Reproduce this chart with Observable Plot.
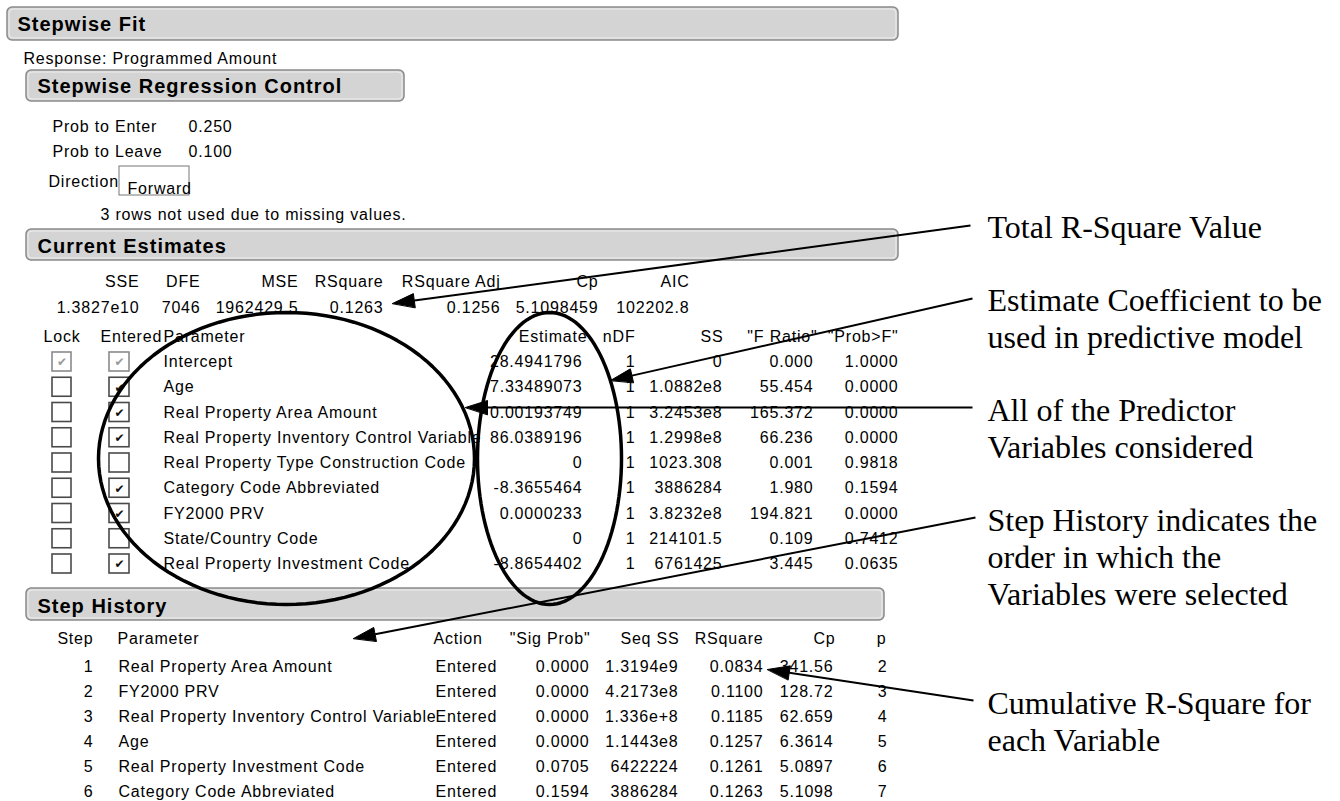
<!DOCTYPE html>
<html>
<head>
<meta charset="utf-8">
<script src="https://cdn.jsdelivr.net/npm/d3@7"></script>
<script src="https://cdn.jsdelivr.net/npm/@observablehq/plot@0.6"></script>
<style>
html, body { margin: 0; padding: 0; background: #fff; overflow: hidden; }
#chart svg text { letter-spacing: 0.8px; }
#chart svg g[font-weight="bold"] text { letter-spacing: 1px; }
#chart svg g[font-family^="Liberation Serif"] text { letter-spacing: 0; }
#chart svg g[font-family^="DejaVu"] text { letter-spacing: 0; }
</style>
</head>
<body>
<div id="chart"></div>
<script>
// ---------------- DATA ----------------
const panelTitles = ["Stepwise Fit", "Stepwise Regression Control", "Current Estimates", "Step History"];
const responseLabel = "Response: Programmed Amount";
const controlLabels = ["Prob to Enter", "Prob to Leave"];
const controlValues = ["0.250", "0.100"];
const directionLabel = "Direction";
const directionValue = "Forward";
const missingNote = "3 rows not used due to missing values.";

const summaryHeaders = ["SSE", "DFE", "MSE", "RSquare", "RSquare Adj", "Cp", "AIC"];
const summaryValues = ["1.3827e10", "7046", "1962429.5", "0.1263", "0.1256", "5.1098459", "102202.8"];

const paramHeadersLeft = ["Lock", "Entered", "Parameter"];
const paramHeadersRight = ["Estimate", "nDF", "SS", "\"F Ratio\"", "\"Prob>F\""];
const params = ["Intercept", "Age", "Real Property Area Amount", "Real Property Inventory Control Variable",
  "Real Property Type Construction Code", "Category Code Abbreviated", "FY2000 PRV", "State/Country Code",
  "Real Property Investment Code"];
const lockedFlags = [true, false, false, false, false, false, false, false, false];
const enteredFlags = [true, true, true, true, false, true, true, false, true];
const estimates = ["28.4941796", "7.33489073", "0.00193749", "86.0389196", "0", "-8.3655464", "0.0000233", "0", "-8.8654402"];
const nDF = ["1", "1", "1", "1", "1", "1", "1", "1", "1"];
const ssValues = ["0", "1.0882e8", "3.2453e8", "1.2998e8", "1023.308", "3886284", "3.8232e8", "214101.5", "6761425"];
const fRatios = ["0.000", "55.454", "165.372", "66.236", "0.001", "1.980", "194.821", "0.109", "3.445"];
const probF = ["1.0000", "0.0000", "0.0000", "0.0000", "0.9818", "0.1594", "0.0000", "0.7412", "0.0635"];

const stepHeadersLeft = ["Parameter", "Action"];
const stepHeadersRight = ["Step", "\"Sig Prob\"", "Seq SS", "RSquare", "Cp", "p"];
const stepNumbers = ["1", "2", "3", "4", "5", "6"];
const stepParams = ["Real Property Area Amount", "FY2000 PRV", "Real Property Inventory Control Variable", "Age",
  "Real Property Investment Code", "Category Code Abbreviated"];
const stepActions = ["Entered", "Entered", "Entered", "Entered", "Entered", "Entered"];
const sigProb = ["0.0000", "0.0000", "0.0000", "0.0000", "0.0705", "0.1594"];
const seqSS = ["1.3194e9", "4.2173e8", "1.336e+8", "1.1443e8", "6422224", "3886284"];
const stepRSquare = ["0.0834", "0.1100", "0.1185", "0.1257", "0.1261", "0.1263"];
const stepCp = ["341.56", "128.72", "62.659", "6.3614", "5.0897", "5.1098"];
const stepP = ["2", "3", "4", "5", "6", "7"];

const annotationTexts = [
  ["Total R-Square Value"],
  ["Estimate Coefficient to be", "used in predictive model"],
  ["All of the Predictor", "Variables considered"],
  ["Step History indicates the", "order in which the", "Variables were selected"],
  ["Cumulative R-Square for", "each Variable"]
];

// ---------------- LAYOUT (pixel geometry of the report) ----------------
const W = 1340, H = 801;
const FS = 16, FB = 20, FA = 32;
const L = {
  panels: [
    {x1: 7, x2: 898, y1: 7, y2: 40, tx: 17, base: 30},
    {x1: 26, x2: 404, y1: 70, y2: 101, tx: 37, base: 92},
    {x1: 26, x2: 898, y1: 229, y2: 260, tx: 37, base: 252},
    {x1: 26, x2: 884, y1: 588, y2: 620, tx: 37, base: 612}
  ],
  response: {x: 23, base: 63},
  control: {lx: 52, vx: 188, base: [131, 156]},
  direction: {x: 48, base: 186, box: {x1: 119, x2: 189, y1: 166, y2: 195}, tx: 127, tbase: 193},
  missing: {x: 100, base: 219},
  summary: {right: [139, 200, 298, 383, 500, 598, 689], hBase: 286, vBase: 312},
  paramHead: {base: 341, left: [43, 100, 163], right: [587, 635, 723, 817, 898]},
  paramRow0: 361.5, paramStep: 25.25,
  lockBox: [52, 71], enteredBox: [109, 129], boxHalf: 9.5,
  paramCols: {name: 163, est: 582, ndf: 635, ss: 722, f: 813, p: 898},
  stepHead: {base: 643, left: [117, 433], right: [93, 590, 679, 763, 835, 886]},
  stepRow0: 671, stepStep: 25,
  stepCols: {num: 93, name: 118, action: 435, sig: 589, seq: 678, rsq: 763, cp: 833, p: 887},
  annot: {x: 987, first: [237, 310, 420, 530, 713], lead: 37},
  arrows: [
    {x0: 970, y0: 225, x1: 392, y1: 303},
    {x0: 972, y0: 298, x1: 610, y1: 380},
    {x0: 972, y0: 407, x1: 465, y1: 407},
    {x0: 975, y0: 517, x1: 353, y1: 638},
    {x0: 973, y0: 700, x1: 767, y1: 669}
  ],
  head: {len: 22, half: 7},
  ellipses: [
    {cx: 286, cy: 458, rx: 188, ry: 146},
    {cx: 549, cy: 458, rx: 72, ry: 146}
  ]
};

const mid = (b, s) => b - 0.32 * s;
const rowC = i => L.paramRow0 + i * L.paramStep;
const stepB = i => L.stepRow0 + i * L.stepStep;

// Build tables for the library
const paramRows = params.map((name, i) => ({
  i, name, locked: lockedFlags[i], entered: enteredFlags[i],
  est: estimates[i], ndf: nDF[i], ss: ssValues[i], f: fRatios[i], p: probF[i]
}));
const stepRows = stepNumbers.map((n, i) => ({
  i, n, name: stepParams[i], action: stepActions[i], sig: sigProb[i], seq: seqSS[i],
  rsq: stepRSquare[i], cp: stepCp[i], p: stepP[i]
}));
const annotLines = annotationTexts.flatMap((lines, k) =>
  lines.map((t, j) => ({t, base: L.annot.first[k] + j * L.annot.lead})));

// ellipse outlines
const ellipsePts = L.ellipses.flatMap((e, id) =>
  d3.range(0, 121).map(k => {
    const t = (k / 120) * 2 * Math.PI;
    return {id, x: e.cx + e.rx * Math.cos(t), y: e.cy + e.ry * Math.sin(t)};
  }));
// arrow geometry
const arrowGeo = L.arrows.map((a, id) => {
  const dx = a.x1 - a.x0, dy = a.y1 - a.y0, len = Math.hypot(dx, dy);
  const ux = dx / len, uy = dy / len;
  const bx = a.x1 - ux * L.head.len, by = a.y1 - uy * L.head.len;
  return {id, x0: a.x0, y0: a.y0, bx, by,
    pts: [
      {id, x: a.x1, y: a.y1},
      {id, x: bx - uy * L.head.half, y: by + ux * L.head.half},
      {id, x: bx + uy * L.head.half, y: by - ux * L.head.half}
    ]};
});

const txt = (data, o) => Plot.text(data, {fontSize: FS, fill: "#000", textAnchor: "start", ...o});
const rightCol = (key, x, yf) => txt(paramRows, {x: () => x, y: yf, text: key, textAnchor: "end"});
const box = (rows, xs, stroke) => Plot.rect(rows, {
  x1: () => xs[0], x2: () => xs[1],
  y1: r => rowC(r.i) - L.boxHalf, y2: r => rowC(r.i) + L.boxHalf,
  fill: "#fff", stroke, strokeWidth: 1.6
});
const check = (rows, xs, fill, size) => Plot.text(rows, {
  x: () => (xs[0] + xs[1]) / 2, y: r => rowC(r.i) + 0.5, text: () => "\u2714",
  fontSize: size, fontFamily: "DejaVu Sans", fill
});

const marks = [
  // panel header bars
  Plot.rect(L.panels, {x1: "x1", x2: "x2", y1: "y1", y2: "y2", rx: 5, fill: "#d4d4d4", stroke: "#8a8a8a", strokeWidth: 1.5}),
  Plot.rect(L.panels, {x1: d => d.x1 + 2, x2: d => d.x2 - 2, y1: d => d.y1 + 2, y2: d => d.y2 - 2, rx: 4, fill: "none", stroke: "#eeeeee", strokeWidth: 1}),
  txt(panelTitles, {x: (d, i) => L.panels[i].tx, y: (d, i) => mid(L.panels[i].base, FB), text: d => d, fontSize: FB, fontWeight: "bold"}),
  // response and control
  txt([responseLabel], {x: () => L.response.x, y: () => mid(L.response.base, FS), text: d => d}),
  txt(controlLabels, {x: () => L.control.lx, y: (d, i) => mid(L.control.base[i], FS), text: d => d}),
  txt(controlValues, {x: () => L.control.vx, y: (d, i) => mid(L.control.base[i], FS), text: d => d}),
  txt([directionLabel], {x: () => L.direction.x, y: () => mid(L.direction.base, FS), text: d => d}),
  Plot.rect([L.direction.box], {x1: "x1", x2: "x2", y1: "y1", y2: "y2", fill: "#fff", stroke: "#777", strokeWidth: 1}),
  txt([directionValue], {x: () => L.direction.tx, y: () => mid(L.direction.tbase, FS), text: d => d}),
  txt([missingNote], {x: () => L.missing.x, y: () => mid(L.missing.base, FS), text: d => d}),
  // summary
  txt(summaryHeaders, {x: (d, i) => L.summary.right[i], y: () => mid(L.summary.hBase, FS), text: d => d, textAnchor: "end"}),
  txt(summaryValues, {x: (d, i) => L.summary.right[i], y: () => mid(L.summary.vBase, FS), text: d => d, textAnchor: "end"}),
  // parameter header
  txt(paramHeadersLeft, {x: (d, i) => L.paramHead.left[i], y: () => mid(L.paramHead.base, FS), text: d => d}),
  txt(paramHeadersRight, {x: (d, i) => L.paramHead.right[i], y: () => mid(L.paramHead.base, FS), text: d => d, textAnchor: "end"}),
  // check boxes
  box(paramRows.filter(r => r.i > 0), L.lockBox, "#4a4a4a"),
  box(paramRows.filter(r => r.i > 0), L.enteredBox, "#4a4a4a"),
  box(paramRows.filter(r => r.i === 0), L.lockBox, "#8a8a8a"),
  box(paramRows.filter(r => r.i === 0), L.enteredBox, "#8a8a8a"),
  check(paramRows.filter(r => r.i > 0 && r.locked), L.lockBox, "#111", 12),
  check(paramRows.filter(r => r.i > 0 && r.entered), L.enteredBox, "#111", 12),
  check(paramRows.filter(r => r.i === 0 && r.locked), L.lockBox, "#9a9a9a", 12),
  check(paramRows.filter(r => r.i === 0 && r.entered), L.enteredBox, "#9a9a9a", 12),
  // parameter rows
  txt(paramRows, {x: () => L.paramCols.name, y: r => rowC(r.i), text: "name"}),
  rightCol("est", L.paramCols.est, r => rowC(r.i)),
  rightCol("ndf", L.paramCols.ndf, r => rowC(r.i)),
  rightCol("ss", L.paramCols.ss, r => rowC(r.i)),
  rightCol("f", L.paramCols.f, r => rowC(r.i)),
  rightCol("p", L.paramCols.p, r => rowC(r.i)),
  // step history
  txt(stepHeadersLeft, {x: (d, i) => L.stepHead.left[i], y: () => mid(L.stepHead.base, FS), text: d => d}),
  txt(stepHeadersRight, {x: (d, i) => L.stepHead.right[i], y: () => mid(L.stepHead.base, FS), text: d => d, textAnchor: "end"}),
  txt(stepRows, {x: () => L.stepCols.num, y: r => mid(stepB(r.i), FS), text: "n", textAnchor: "end"}),
  txt(stepRows, {x: () => L.stepCols.name, y: r => mid(stepB(r.i), FS), text: "name"}),
  txt(stepRows, {x: () => L.stepCols.action, y: r => mid(stepB(r.i), FS), text: "action"}),
  txt(stepRows, {x: () => L.stepCols.sig, y: r => mid(stepB(r.i), FS), text: "sig", textAnchor: "end"}),
  txt(stepRows, {x: () => L.stepCols.seq, y: r => mid(stepB(r.i), FS), text: "seq", textAnchor: "end"}),
  txt(stepRows, {x: () => L.stepCols.rsq, y: r => mid(stepB(r.i), FS), text: "rsq", textAnchor: "end"}),
  txt(stepRows, {x: () => L.stepCols.cp, y: r => mid(stepB(r.i), FS), text: "cp", textAnchor: "end"}),
  txt(stepRows, {x: () => L.stepCols.p, y: r => mid(stepB(r.i), FS), text: "p", textAnchor: "end"}),
  // annotations
  txt(annotLines, {x: () => L.annot.x, y: d => mid(d.base, FA), text: "t", fontSize: FA, fontFamily: "Liberation Serif, Times New Roman, serif"}),
  Plot.line(ellipsePts, {x: "x", y: "y", z: "id", curve: "linear-closed", stroke: "#000", strokeWidth: 3.5, fill: "none"}),
  Plot.link(arrowGeo, {x1: "x0", y1: "y0", x2: "bx", y2: "by", stroke: "#000", strokeWidth: 2}),
  Plot.line(arrowGeo.flatMap(a => a.pts), {x: "x", y: "y", z: "id", curve: "linear-closed", stroke: "#000", strokeWidth: 1, fill: "#000"})
];

const chart = Plot.plot({
  width: W, height: H, margin: 0,
  x: {type: "linear", domain: [0, W], range: [0, W], axis: null},
  y: {type: "linear", domain: [0, H], range: [0, H], axis: null},
  style: {fontFamily: "'Liberation Sans', Arial, sans-serif", background: "#fff", color: "#000"},
  marks
});
document.getElementById("chart").appendChild(chart);
</script>
</body>
</html>
